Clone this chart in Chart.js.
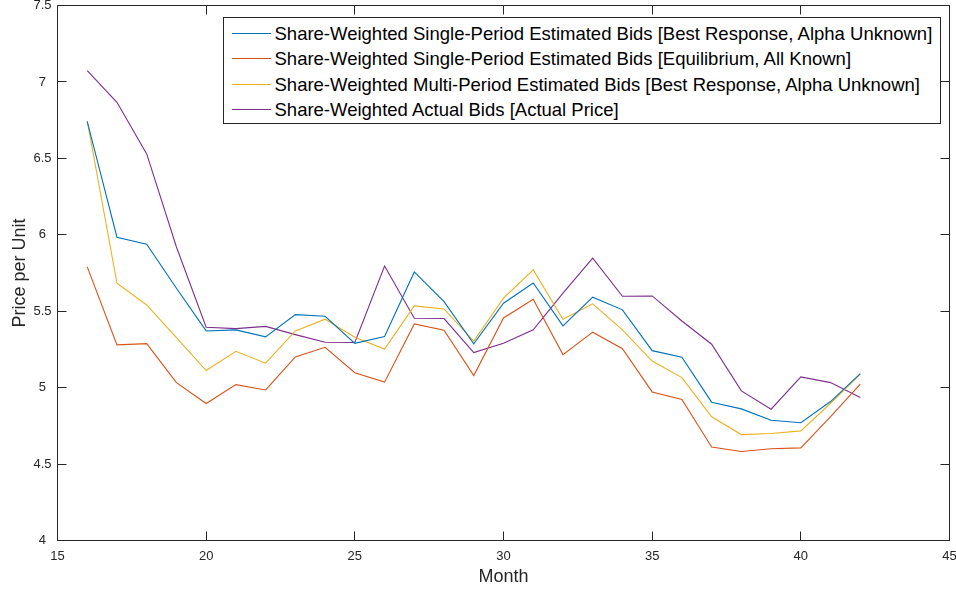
<!DOCTYPE html>
<html>
<head>
<meta charset="utf-8">
<script src="https://cdn.jsdelivr.net/npm/chart.js@4.4.1/dist/chart.umd.min.js"></script>
<style>
  body { margin: 0; background: #fff; }
  #wrap { position: relative; width: 956px; height: 589px; }
  #legend {
    position: absolute; left: 223px; top: 17px; width: 718px; height: 107px;
    box-sizing: border-box; border: 1px solid #262626; background: #fff;
    font-family: 'Liberation Sans', Arial, sans-serif; font-size: 18.5px; color: #000;
    padding-top: 3px;
  }
  .row { height: 25.3px; line-height: 25.3px; white-space: nowrap; display: flex; align-items: center; }
  .swatch { display: inline-block; width: 39px; height: 0; border-top: 1.3px solid; margin-left: 7.5px; margin-right: 4px; }
</style>
</head>
<body>
<div id="wrap">
  <canvas id="pricechart" width="956" height="589"></canvas>
  <div id="legend"></div>
</div>
<script>
const months = [16,17,18,19,20,21,22,23,24,25,26,27,28,29,30,31,32,33,34,35,36,37,38,39,40,41,42];

const singleBestResponse = [6.74,5.984,5.938,5.65,5.371,5.378,5.332,5.478,5.467,5.29,5.334,5.757,5.563,5.286,
  5.552,5.685,5.404,5.592,5.509,5.242,5.199,4.905,4.861,4.787,4.77,4.909,5.092];
const singleEquilibrium = [5.79,5.28,5.288,5.033,4.896,5.02,4.985,5.201,5.264,5.098,5.036,5.417,5.376,5.079,
  5.456,5.578,5.216,5.363,5.255,4.972,4.922,4.612,4.582,4.6,4.606,4.81,5.023];
const multiBestResponse = [6.745,5.683,5.541,5.327,5.112,5.238,5.16,5.371,5.448,5.33,5.253,5.535,5.515,5.304,
  5.585,5.77,5.448,5.548,5.378,5.174,5.066,4.809,4.693,4.7,4.717,4.898,5.088];
const actualBids = [7.074,6.867,6.529,5.92,5.395,5.386,5.401,5.347,5.297,5.295,5.796,5.454,5.452,5.229,
  5.29,5.378,5.618,5.847,5.598,5.6,5.436,5.284,4.979,4.859,5.07,5.033,4.935];

const seriesLabels = [
  'Share-Weighted Single-Period Estimated Bids [Best Response, Alpha Unknown]',
  'Share-Weighted Single-Period Estimated Bids [Equilibrium, All Known]',
  'Share-Weighted Multi-Period Estimated Bids [Best Response, Alpha Unknown]',
  'Share-Weighted Actual Bids [Actual Price]'
];
const seriesColors = ['#0072BD', '#D95319', '#EDB120', '#7E2F8E'];

const xTicks = [15, 20, 25, 30, 35, 40, 45];
const yTicks = [4, 4.5, 5, 5.5, 6, 6.5, 7, 7.5];

const axisColor = '#262626';
const fontFamily = "'Liberation Sans', Arial, sans-serif";

function toPoints(vals) {
  return vals.map((v, i) => ({ x: months[i], y: v }));
}

const allSeries = [singleBestResponse, singleEquilibrium, multiBestResponse, actualBids];

// matlab style box with inward ticks on all four sides
const boxTicks = {
  id: 'boxTicks',
  afterDatasetsDraw(chart) {
    const { ctx, chartArea: a, scales } = chart;
    const len = 9;
    ctx.save();
    ctx.strokeStyle = axisColor;
    ctx.lineWidth = 1;
    ctx.beginPath();
    ctx.rect(a.left, a.top, a.right - a.left, a.bottom - a.top);
    xTicks.forEach(t => {
      const px = Math.round(scales.x.getPixelForValue(t) - 0.5) + 0.5;
      ctx.moveTo(px, a.bottom); ctx.lineTo(px, a.bottom - len);
      ctx.moveTo(px, a.top); ctx.lineTo(px, a.top + len);
    });
    yTicks.forEach(t => {
      const py = Math.round(scales.y.getPixelForValue(t) - 0.5) + 0.5;
      ctx.moveTo(a.left, py); ctx.lineTo(a.left + len, py);
      ctx.moveTo(a.right, py); ctx.lineTo(a.right - len, py);
    });
    ctx.stroke();
    ctx.restore();
  }
};

const config = {
  type: 'line',
  data: {
    datasets: allSeries.map((vals, i) => ({
      label: seriesLabels[i],
      data: toPoints(vals),
      borderColor: seriesColors[i],
      backgroundColor: seriesColors[i],
      borderWidth: 1.1,
      pointRadius: 0,
      tension: 0,
      fill: false
    }))
  },
  options: {
    responsive: false,
    animation: false,
    devicePixelRatio: 1,
    layout: { padding: { top: 5.5, right: 6.5, left: 0, bottom: 0 } },
    plugins: {
      legend: { display: false },
      tooltip: { enabled: false }
    },
    scales: {
      x: {
        type: 'linear',
        min: 15, max: 45,
        afterFit(s) { s.height = 48.5; s.paddingLeft = 0; s.paddingRight = 0; },
        afterBuildTicks(s) { s.ticks = xTicks.map(v => ({ value: v })); },
        grid: { display: false, drawTicks: false },
        border: { display: false },
        ticks: {
          color: axisColor, padding: 8,
          font: { family: fontFamily, size: 13 },
          maxRotation: 0,
          callback: v => String(v)
        },
        title: {
          display: true, text: 'Month', color: axisColor,
          font: { family: fontFamily, size: 18 },
          padding: { top: 0, bottom: 1.5 }
        }
      },
      y: {
        type: 'linear',
        min: 4, max: 7.5,
        afterFit(s) { s.width = 57.5; s.paddingTop = 0; s.paddingBottom = 0; },
        afterBuildTicks(s) { s.ticks = yTicks.map(v => ({ value: v })); },
        grid: { display: false, drawTicks: false },
        border: { display: false },
        ticks: {
          color: axisColor, padding: 6, crossAlign: 'center',
          font: { family: fontFamily, size: 13 },
          callback: v => String(v)
        },
        title: {
          display: true, text: 'Price per Unit', color: axisColor,
          font: { family: fontFamily, size: 18 },
          padding: { top: 9, bottom: 0 }
        }
      }
    }
  },
  plugins: [boxTicks]
};

const chart = new Chart(document.getElementById('pricechart'), config);

// legend drawn as html, built from the chart datasets
const legendEl = document.getElementById('legend');
chart.data.datasets.forEach(ds => {
  const row = document.createElement('div');
  row.className = 'row';
  const sw = document.createElement('span');
  sw.className = 'swatch';
  sw.style.borderTopColor = ds.borderColor;
  const txt = document.createElement('span');
  txt.textContent = ds.label;
  row.appendChild(sw);
  row.appendChild(txt);
  legendEl.appendChild(row);
});
</script>
</body>
</html>
